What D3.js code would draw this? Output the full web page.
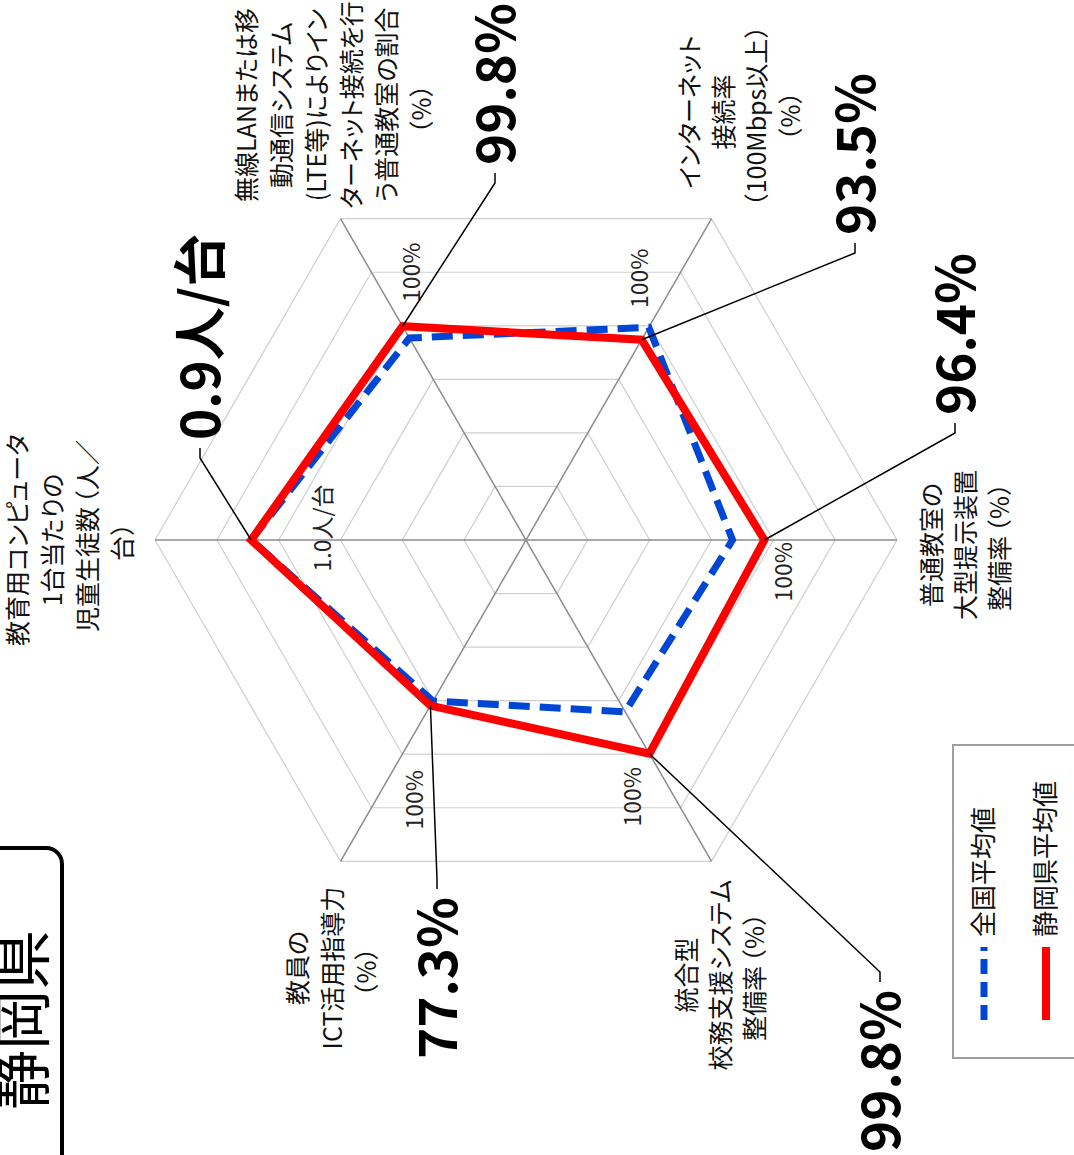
<!DOCTYPE html>
<html><head><meta charset="utf-8">
<script src="https://cdn.jsdelivr.net/npm/d3@7"></script>
<style>
html,body{margin:0;padding:0;background:#fff;}
svg text{font-family:"Noto Sans CJK JP","Noto Sans",sans-serif;font-feature-settings:"palt";}
svg tspan.op{font-feature-settings:normal;}
svg tspan.cl{font-feature-settings:normal;letter-spacing:-8px;}
</style></head>
<body>
<svg id="c" width="1074" height="1155"></svg>
<script>
// ---- data ----
const categories = [
  ["教育用コンピュータ","1台当たりの","児童生徒数（人／","台）"],
  ["無線LANまたは移","動通信システム","(LTE等)によりイン","ターネット接続を行","う普通教室の割合","（%）"],
  ["インターネット","接続率","（100Mbps以上）","（%）"],
  ["普通教室の","大型提示装置","整備率（%）"],
  ["統合型","校務支援システム","整備率（%）"],
  ["教員の","ICT活用指導力","（%）"]
];
const prefValues = [0.9, 99.8, 93.5, 96.4, 99.8, 77.3];      // 静岡県平均値
const nationalValues = [0.9, 94.3, 99.3, 83.5, 80.2, 75.2];  // 全国平均値
const valueLabels = ["0.9人/台","99.8%","93.5%","96.4%","99.8%","77.3%"];
const axisMaxLabels = ["1.0人/台","100%","100%","100%","100%","100%"];
const ringTicks = [25,50,75,100,125,150];
const seriesNames = ["全国平均値","静岡県平均値"];
const title = "静岡県";

// ---- layout (unrotated frame, 1155 x 1074) ----
const W = 1155, H = 1074;
const cx = 615, cy = 526, R = 371;
const catLayout = [ // center x, first line center y, line height
  {x:615, y:18, lh:35}, {x:1050, y:247, lh:35}, {x:1043, y:690, lh:33.5},
  {x:610, y:932, lh:34}, {x:180, y:687, lh:34}, {x:187, y:298, lh:34.5}
];
const valLayout = [ // text anchor x, center y, anchor
  {x:715, y:200, a:"start"}, {x:990, y:495, a:"start"}, {x:920, y:855, a:"start"},
  {x:740, y:955, a:"start"}, {x:165, y:880, a:"end"}, {x:258, y:437, a:"end"}
];
const maxLabelLayout = [
  {x:627, y:323, a:"middle"}, {x:853, y:412, a:"start"}, {x:847, y:640, a:"start"},
  {x:613, y:784, a:"end"}, {x:388, y:633, a:"end"}, {x:385, y:415, a:"end"}
];

const svg = d3.select("#c");
const g = svg.append("g").attr("transform", `translate(0,${W}) rotate(-90)`);

const r = d3.scaleLinear().domain([0,150]).range([0,R]);
const ang = d3.scaleLinear().domain([0,categories.length]).range([0,2*Math.PI]);
const score = (v,i) => i===0 ? 100/v : v;
const pt = (s,i) => [cx + r(s)*Math.sin(ang(i)), cy - r(s)*Math.cos(ang(i))];
const idx = d3.range(categories.length);

const plot = g.append("g");
// rings
plot.selectAll("path.ring").data(ringTicks).join("path")
  .attr("d", t => "M" + idx.map(i => pt(t,i).join(",")).join("L") + "Z")
  .attr("fill","none").attr("stroke","#cfcfcf").attr("stroke-width",1.2);
// axes
plot.selectAll("line.axis").data(idx).join("line")
  .attr("x1",cx).attr("y1",cy)
  .attr("x2",i=>pt(150,i)[0]).attr("y2",i=>pt(150,i)[1])
  .attr("stroke","#8c8c8c").attr("stroke-width",1.5);

const radial = d3.lineRadial().angle((d,i)=>ang(i)).radius(d=>r(d)).curve(d3.curveLinearClosed);
plot.append("path").attr("transform",`translate(${cx},${cy})`)
  .attr("d", radial(nationalValues.map(score)))
  .attr("fill","none").attr("stroke","#0046d5").attr("stroke-width",7)
  .attr("stroke-dasharray","21,10").attr("stroke-linejoin","miter");
plot.append("path").attr("transform",`translate(${cx},${cy})`)
  .attr("d", radial(prefValues.map(score)))
  .attr("fill","none").attr("stroke","#ff0000").attr("stroke-width",8)
  .attr("stroke-linejoin","miter");

// max labels
g.selectAll("text.max").data(axisMaxLabels).join("text")
  .attr("x",(d,i)=>maxLabelLayout[i].x).attr("y",(d,i)=>maxLabelLayout[i].y)
  .attr("dy","0.36em").attr("text-anchor",(d,i)=>maxLabelLayout[i].a)
  .attr("font-size",23).attr("fill","#222").text(d=>d);

// leader lines and value labels
idx.forEach(i => {
  const L = valLayout[i];
  const p = pt(score(prefValues[i],i), i);
  const sgn = L.a === "start" ? -1 : 1;
  const end = L.x + sgn*8, elbow = L.x + sgn*18;
  g.append("path").attr("d", `M${p[0]},${p[1]}L${elbow},${L.y}L${end},${L.y}`)
    .attr("fill","none").attr("stroke","#000").attr("stroke-width",1.5);
  g.append("text").attr("x",L.x).attr("y",L.y).attr("dy","0.37em")
    .attr("text-anchor",L.a).attr("font-size",53).attr("font-weight","bold")
    .attr("fill","#000").text(valueLabels[i]);
});

// category labels (full-width brackets slightly condensed)
categories.forEach((lines,i) => {
  const C = catLayout[i];
  const t = g.append("text").attr("text-anchor","middle").attr("font-size",25).attr("fill","#111");
  lines.forEach((ln,k) => {
    const parts = ln.split(/([（）／])/).filter(s => s.length);
    parts.forEach((s,j) => {
      const ts = t.append("tspan").text(s);
      if (j === 0) ts.attr("x",C.x).attr("y",C.y + k*C.lh).attr("dy","0.36em");
      if (s === "（") ts.attr("class","op").attr("dx",-8);
      if (s === "）" || s === "／") ts.attr("class","cl");
    });
  });
});

// legend
const lg = g.append("g");
lg.append("rect").attr("x",97).attr("y",953).attr("width",313).attr("height",160)
  .attr("fill","#fff").attr("stroke","#a0a0a0").attr("stroke-width",2);
const legY = [984, 1046];
lg.append("line").attr("x1",135).attr("x2",208).attr("y1",legY[0]).attr("y2",legY[0])
  .attr("stroke","#0046d5").attr("stroke-width",7).attr("stroke-dasharray","15,8");
lg.append("line").attr("x1",135).attr("x2",208).attr("y1",legY[1]).attr("y2",legY[1])
  .attr("stroke","#ff0000").attr("stroke-width",8);
seriesNames.forEach((n,k) => {
  lg.append("text").attr("x",218).attr("y",legY[k]).attr("dy","0.36em")
    .attr("font-size",26).attr("fill","#111").text(n);
});

// title
g.append("rect").attr("x",-40).attr("y",-40).attr("width",347).attr("height",102)
  .attr("rx",16).attr("fill","none").attr("stroke","#000").attr("stroke-width",4);
g.append("text").attr("x",135).attr("y",44).attr("text-anchor","middle")
  .attr("font-size",60).attr("fill","#000").text(title);
</script>
</body></html>
